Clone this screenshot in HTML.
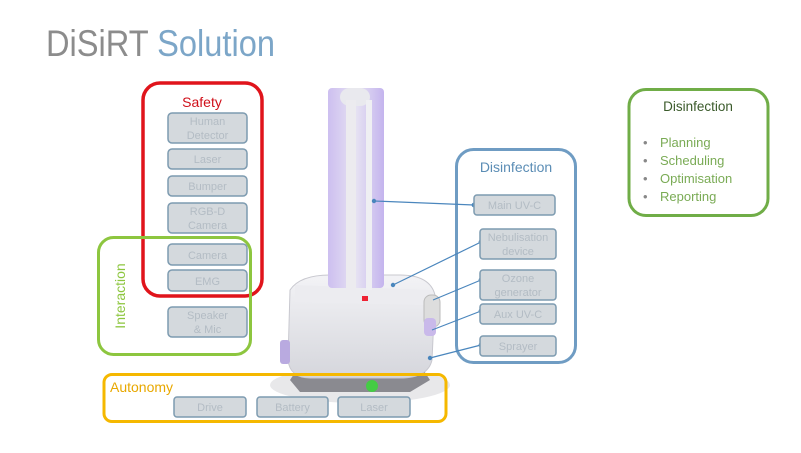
<!DOCTYPE html>
<html><head><meta charset="utf-8"><style>
html,body{margin:0;padding:0;background:#fff;}
svg{display:block;font-family:"Liberation Sans",sans-serif;}
.sb{fill:#d4d9dd;stroke:#7d9bb0;stroke-width:1.5;}
.st{fill:#b3bcc4;font-size:11px;text-anchor:middle;}
</style></head><body>
<svg width="801" height="453" viewBox="0 0 801 453">
<rect width="801" height="453" fill="#fff"/>
<text x="46" y="56" font-size="37" fill="#8c8c8c" textLength="229" lengthAdjust="spacingAndGlyphs">DiSiRT <tspan fill="#7ca6c8">Solution</tspan></text>

<defs>
<linearGradient id="col" x1="0" x2="1"><stop offset="0" stop-color="#cdbff0"/><stop offset="0.5" stop-color="#e6e2f2"/><stop offset="1" stop-color="#c4b4ee"/></linearGradient>
<linearGradient id="base" x1="0" x2="0" y1="0" y2="1"><stop offset="0" stop-color="#f3f3f6"/><stop offset="1" stop-color="#d5d6dc"/></linearGradient>
</defs>
<ellipse cx="360" cy="385" rx="90" ry="18" fill="#e8e8ea"/>
<path d="M300 365 L420 365 L430 380 L410 392 L300 392 L290 380Z" fill="#8a8a90"/>
<path d="M290 290 Q300 275 330 275 L400 275 Q430 275 435 295 L432 360 Q428 378 400 378 L310 378 Q290 378 288 360Z" fill="url(#base)" stroke="#c8c8cf"/>
<path d="M295 285 L430 290 L430 305 L295 302Z" fill="#ececf0"/>
<rect x="362" y="296" width="6" height="5" fill="#e23"/>
<rect x="424" y="295" width="16" height="32" rx="7" fill="#ddd" stroke="#bbb"/>
<rect x="424" y="318" width="12" height="18" rx="4" fill="#c9b9ea"/>
<rect x="280" y="340" width="10" height="24" rx="3" fill="#b9aae0"/>
<circle cx="372" cy="386" r="6" fill="#4c4"/>
<rect x="328" y="88" width="56" height="200" rx="4" fill="url(#col)"/>
<rect x="340" y="88" width="30" height="18" rx="10" fill="#e9e9ee"/>
<rect x="346" y="100" width="10" height="190" fill="#ecebef"/>
<rect x="366" y="100" width="6" height="190" fill="#efeff3"/>

<rect x="143" y="83" width="119" height="213" rx="17" fill="none" stroke="#e0141b" stroke-width="3.5"/>
<text x="202" y="107" font-size="14" fill="#d0101a" text-anchor="middle">Safety</text>
<rect class="sb" x="168" y="113" width="79" height="30" rx="4"/><text class="st" x="207.5" y="125">Human</text><text class="st" x="207.5" y="139">Detector</text>
<rect class="sb" x="168" y="149" width="79" height="20" rx="4"/><text class="st" x="207.5" y="163">Laser</text>
<rect class="sb" x="168" y="176" width="79" height="20" rx="4"/><text class="st" x="207.5" y="190">Bumper</text>
<rect class="sb" x="168" y="203" width="79" height="30" rx="4"/><text class="st" x="207.5" y="215">RGB-D</text><text class="st" x="207.5" y="229">Camera</text>
<rect class="sb" x="168" y="244" width="79" height="21" rx="4"/><text class="st" x="207.5" y="259">Camera</text>
<rect class="sb" x="168" y="270" width="79" height="21" rx="4"/><text class="st" x="207.5" y="285">EMG</text>
<rect class="sb" x="168" y="307" width="79" height="30" rx="4"/><text class="st" x="207.5" y="319">Speaker</text><text class="st" x="207.5" y="333">&amp; Mic</text>

<rect x="98.5" y="237.5" width="152" height="117" rx="15" fill="none" stroke="#8dc63f" stroke-width="3"/>
<text transform="translate(125,296) rotate(-90)" font-size="14" fill="#8dc63f" text-anchor="middle">Interaction</text>

<rect x="104" y="374.5" width="342" height="47" rx="8" fill="none" stroke="#f5b800" stroke-width="3"/>
<text x="110" y="392" font-size="14" fill="#e8a800">Autonomy</text>
<rect class="sb" x="174" y="397" width="72" height="20" rx="3"/><text class="st" x="210" y="411">Drive</text>
<rect class="sb" x="257" y="397" width="71" height="20" rx="3"/><text class="st" x="292.5" y="411">Battery</text>
<rect class="sb" x="338" y="397" width="72" height="20" rx="3"/><text class="st" x="374" y="411">Laser</text>

<rect x="456.5" y="149.5" width="119" height="213" rx="17" fill="none" stroke="#6f9cc3" stroke-width="3"/>
<text x="516" y="172" font-size="14" fill="#5b8db5" text-anchor="middle">Disinfection</text>
<g stroke="#4a86bd" stroke-width="1.2" fill="#4a86bd">
<line x1="374" y1="201" x2="474" y2="205"/><circle cx="374" cy="201" r="1.6"/><circle cx="474" cy="205" r="1.8"/>
<line x1="393" y1="285" x2="481" y2="242"/><circle cx="393" cy="285" r="1.6"/><circle cx="481" cy="242" r="1.8"/>
<line x1="433" y1="300" x2="481" y2="280"/><circle cx="481" cy="280" r="1.8"/>
<line x1="432" y1="330" x2="481" y2="311"/><circle cx="481" cy="311" r="1.8"/>
<line x1="430" y1="358" x2="481" y2="345"/><circle cx="430" cy="358" r="1.6"/><circle cx="481" cy="345" r="1.8"/>
</g>
<rect class="sb" x="474" y="195" width="81" height="20" rx="3"/><text class="st" x="514.5" y="209">Main UV-C</text>
<rect class="sb" x="480" y="229" width="76" height="30" rx="3"/><text class="st" x="518" y="241">Nebulisation</text><text class="st" x="518" y="255">device</text>
<rect class="sb" x="480" y="270" width="76" height="30" rx="3"/><text class="st" x="518" y="282">Ozone</text><text class="st" x="518" y="296">generator</text>
<rect class="sb" x="480" y="304" width="76" height="20" rx="3"/><text class="st" x="518" y="318">Aux UV-C</text>
<rect class="sb" x="480" y="336" width="76" height="20" rx="3"/><text class="st" x="518" y="350">Sprayer</text>

<rect x="629" y="89.5" width="139" height="126" rx="17" fill="none" stroke="#70ad47" stroke-width="3"/>
<text x="698" y="111" font-size="13.5" fill="#3a5a2a" text-anchor="middle">Disinfection</text>
<g font-size="13" fill="#7aab55">
<text x="643" y="147" fill="#888">•</text><text x="660" y="147">Planning</text>
<text x="643" y="165" fill="#888">•</text><text x="660" y="165">Scheduling</text>
<text x="643" y="183" fill="#888">•</text><text x="660" y="183">Optimisation</text>
<text x="643" y="201" fill="#888">•</text><text x="660" y="201">Reporting</text>
</g>
</svg>
</body></html>
